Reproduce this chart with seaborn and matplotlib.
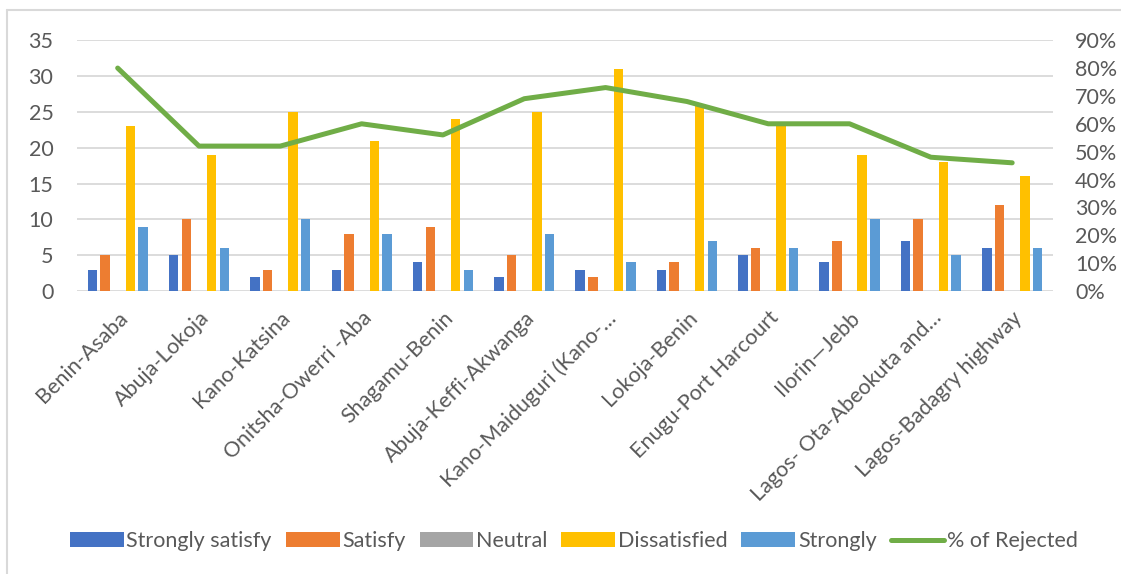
import matplotlib
matplotlib.use("Agg")
import matplotlib.pyplot as plt
from matplotlib.lines import Line2D
from matplotlib.ticker import FuncFormatter
import seaborn as sns
import pandas as pd

routes = [
    "Benin-Asaba", "Abuja-Lokoja", "Kano-Katsina", "Onitsha-Owerri -Aba",
    "Shagamu-Benin", "Abuja-Keffi-Akwanga", "Kano-Maiduguri (Kano-\u2026",
    "Lokoja-Benin", "Enugu-Port Harcourt", "Ilorin\u2014Jebb",
    "Lagos- Ota-Abeokuta and\u2026", "Lagos-Badagry highway",
]
strongly_satisfy = [3, 5, 2, 3, 4, 2, 3, 3, 5, 4, 7, 6]
satisfy = [5, 10, 3, 8, 9, 5, 2, 4, 6, 7, 10, 12]
neutral = [0, 0, 0, 0, 0, 0, 0, 0, 0, 0, 0, 0]
dissatisfied = [23, 19, 25, 21, 24, 25, 31, 26, 23, 19, 18, 16]
strongly = [9, 6, 10, 8, 3, 8, 4, 7, 6, 10, 5, 6]
pct_rejected = [0.80, 0.52, 0.52, 0.60, 0.56, 0.69, 0.73, 0.68, 0.60, 0.60, 0.48, 0.46]

levels = ["Strongly satisfy", "Satisfy", "Neutral", "Dissatisfied", "Strongly"]
series = [strongly_satisfy, satisfy, neutral, dissatisfied, strongly]
colors = ["#4472C4", "#ED7D31", "#A5A5A5", "#FFC000", "#5B9BD5"]
line_color = "#70AD47"
text_color = "#595959"
grid_color = "#D9D9D9"

df = pd.DataFrame(
    [(r, lvl, v) for lvl, vals in zip(levels, series) for r, v in zip(routes, vals)],
    columns=["route", "response", "count"],
)

sns.set_theme(style="white")
plt.rcParams["font.family"] = ["Lato", "DejaVu Sans"]

fig = plt.figure(figsize=(11.21, 5.74), dpi=100)
ax = fig.add_axes([0.0687, 0.493, 0.8705, 0.437])

sns.barplot(
    data=df, x="route", y="count", hue="response", hue_order=levels,
    order=routes, palette=colors, width=0.78, gap=0.25, ax=ax,
    saturation=1, linewidth=0,
)
bar_handles, bar_labels = ax.get_legend_handles_labels()
if ax.get_legend() is not None:
    ax.get_legend().remove()

ax.set_xlim(-0.5, len(routes) - 0.5)
ax.set_ylim(0, 35)
ax.set_yticks(range(0, 36, 5))
ax.yaxis.grid(True, color=grid_color, linewidth=1.3)
ax.set_axisbelow(True)
for s in ax.spines.values():
    s.set_visible(False)
ax.set_xlabel("")
ax.set_ylabel("")
ax.tick_params(axis="y", length=0, pad=17, labelsize=15.5, labelcolor=text_color)
ax.tick_params(axis="x", length=0, pad=12, labelsize=15.5, labelcolor=text_color)
for lbl in ax.get_xticklabels():
    lbl.set_rotation(45)
    lbl.set_ha("right")
    lbl.set_rotation_mode("anchor")

ax2 = ax.twinx()
ax2.plot(range(len(routes)), pct_rejected, color=line_color, linewidth=3.6,
         solid_capstyle="round", solid_joinstyle="round")
ax2.set_ylim(0, 0.9)
ax2.set_yticks([i / 10 for i in range(10)])
ax2.yaxis.set_major_formatter(FuncFormatter(lambda v, _: f"{v * 100:.0f}%"))
ax2.tick_params(axis="y", length=0, pad=16, labelsize=15.5, labelcolor=text_color)
for s in ax2.spines.values():
    s.set_visible(False)
ax2.grid(False)

line_handle = Line2D([0], [0], color=line_color, linewidth=3.6, solid_capstyle="round")
leg = fig.legend(
    bar_handles + [line_handle], bar_labels + ["% of Rejected"],
    loc="center", bbox_to_anchor=(0.512, 0.057), ncol=6, frameon=False,
    fontsize=15.5, handlelength=2.5, handleheight=0.7, handletextpad=0.12,
    columnspacing=0.65, labelcolor=text_color,
)

# chart area frame
fig.add_artist(Line2D([0.0065, 0.0065], [0.0, 0.983], color=grid_color, linewidth=1.5))
fig.add_artist(Line2D([0.0065, 1.0], [0.983, 0.983], color=grid_color, linewidth=1.5))

fig.savefig("out.png", dpi=100)
